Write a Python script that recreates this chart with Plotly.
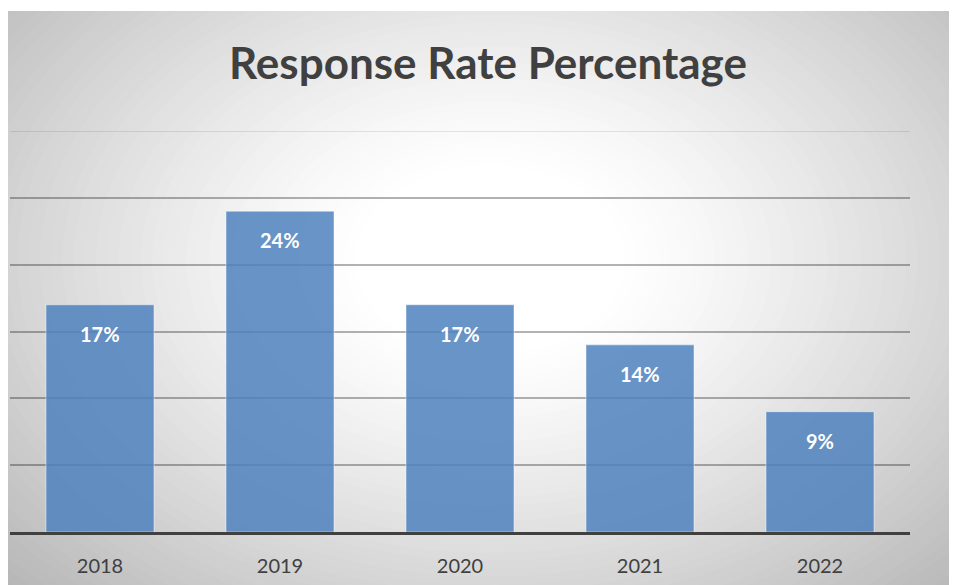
import plotly.graph_objects as go

years = ["2018", "2019", "2020", "2021", "2022"]
rates = [17, 24, 17, 14, 9]
labels = ["17%", "24%", "17%", "14%", "9%"]

OFF = 8  # page body margin
W, H = 957 - OFF, 585 - OFF
L, R, T, B = 10 - OFF, 47, 131 - OFF, 53
pw, ph = W - L - R, H - T - B

def px(xp):  # page x -> paper
    return (xp - OFF - L) / pw
def py(yp):  # page y -> paper
    return (H - B - (yp - OFF)) / ph

def shade(d):
    t = max(0.0, (d - 0.25) / 0.85)
    v = int(round(255 - 60 * t ** 1.2))
    v = max(0, min(255, v))
    return "rgb(%d,%d,%d)" % (v, v, v)

shapes = []
cx, cy, rx, ry = 490, 260, 540.0, 380.0
shapes.append(dict(type="rect", xref="paper", yref="paper", x0=px(7), x1=px(960), y0=py(11), y1=py(590),
                   fillcolor=shade(1.25), line=dict(width=0), layer="below"))
n = 48
for i in range(n + 1):
    d = 1.25 - (1.25 - 0.25) * i / n
    shapes.append(dict(type="circle", xref="paper", yref="paper",
                       x0=px(cx - rx * d), x1=px(cx + rx * d), y0=py(cy + ry * d), y1=py(cy - ry * d),
                       fillcolor=shade(d), line=dict(width=0), layer="below"))
shapes.append(dict(type="rect", xref="paper", yref="paper", x0=px(-50), x1=px(1000), y0=py(11), y1=py(-300),
                   fillcolor="white", line=dict(width=0), layer="below"))
shapes.append(dict(type="rect", xref="paper", yref="paper", x0=px(-300), x1=px(7), y0=py(1000), y1=py(-300),
                   fillcolor="white", line=dict(width=0), layer="below"))
# top gridline (at range end), lighter as in the reference
shapes.append(dict(type="line", xref="paper", yref="y", x0=0, x1=1, y0=30, y1=30,
                   line=dict(color="rgba(0,0,0,0.13)", width=1.5), layer="below"))

fig = go.Figure()
fig.add_trace(go.Bar(
    x=years, y=rates,
    marker=dict(color="rgba(79,129,189,0.85)", line=dict(color="rgba(255,255,255,0.45)", width=1)),
    hoverinfo="skip",
))
for i, (r, lab) in enumerate(zip(rates, labels)):
    fig.add_annotation(x=i, y=r, xref="x", yref="y", text="<b>%s</b>" % lab, showarrow=False,
                       yshift=-29, font=dict(family="Lato", size=20, color="white"))

fig.update_layout(
    width=W, height=H,
    margin=dict(l=L, r=R, t=T, b=B, autoexpand=False),
    paper_bgcolor="white", plot_bgcolor="rgba(0,0,0,0)",
    showlegend=False,
    title=dict(text="<b>Response Rate Percentage</b>", x=(488 - OFF - L) / pw, xref="paper", xanchor="center",
               y=1 - (64 - OFF) / H, yref="container", yanchor="middle",
               font=dict(family="Lato", size=44, color="#404040")),
    shapes=shapes,
    bargap=0.4,
)
fig.update_xaxes(type="category", range=[-0.5, 4.5], autorange=False,
                 categoryorder="array", categoryarray=years,
                 showline=True, linecolor="#404040", linewidth=3,
                 ticks="outside", ticklen=14, tickcolor="rgba(0,0,0,0)",
                 tickfont=dict(family="Lato", size=20, color="#404040"), showgrid=False)
fig.update_yaxes(range=[0, 30], autorange=False, dtick=5, showticklabels=False, zeroline=False,
                 showgrid=True, gridcolor="rgba(0,0,0,0.3)", gridwidth=1.5)
fig.write_html("out.html")
